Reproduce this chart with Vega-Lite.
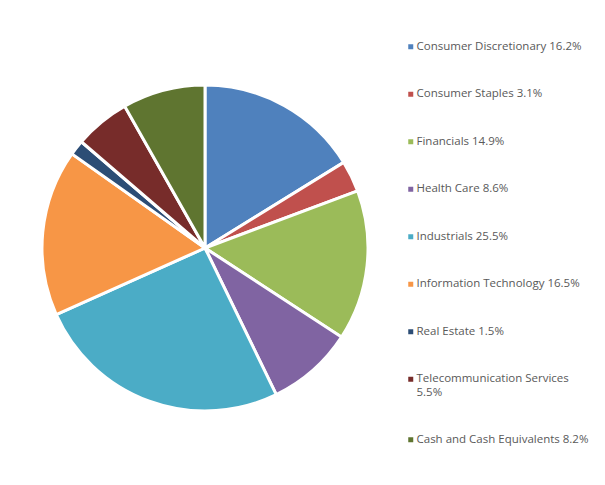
{
  "$schema": "https://vega.github.io/schema/vega-lite/v6.json",
  "width": 384,
  "height": 484,
  "padding": {"left": 13, "top": 6, "right": 0, "bottom": 0},
  "autosize": {"type": "pad"},
  "background": "white",
  "config": {"view": {"stroke": null}},
  "data": {
    "values": [
      {"idx": 1, "label": "Consumer Discretionary 16.2%", "pct": 16.2},
      {"idx": 2, "label": "Consumer Staples 3.1%", "pct": 3.1},
      {"idx": 3, "label": "Financials 14.9%", "pct": 14.9},
      {"idx": 4, "label": "Health Care 8.6%", "pct": 8.6},
      {"idx": 5, "label": "Industrials 25.5%", "pct": 25.5},
      {"idx": 6, "label": "Information Technology 16.5%", "pct": 16.5},
      {"idx": 7, "label": "Real Estate 1.5%", "pct": 1.5},
      {"idx": 8, "label": "Telecommunication Services 5.5%", "pct": 5.5},
      {"idx": 9, "label": "Cash and Cash Equivalents 8.2%", "pct": 8.2}
    ]
  },
  "mark": {"type": "arc", "outerRadius": 163, "stroke": "white", "strokeWidth": 3},
  "encoding": {
    "theta": {"field": "pct", "type": "quantitative", "stack": true},
    "order": {"field": "idx", "type": "quantitative"},
    "color": {
      "field": "label",
      "type": "nominal",
      "sort": null,
      "scale": {
        "domain": ["Consumer Discretionary 16.2%", "Consumer Staples 3.1%", "Financials 14.9%", "Health Care 8.6%", "Industrials 25.5%", "Information Technology 16.5%", "Real Estate 1.5%", "Telecommunication Services 5.5%", "Cash and Cash Equivalents 8.2%"],
        "range": ["#4F81BD", "#C0504D", "#9BBB59", "#8064A2", "#4BACC6", "#F79646", "#2C4D75", "#772C2A", "#5F7530"]
      },
      "legend": {
        "title": null,
        "orient": "none",
        "legendX": 392,
        "legendY": 35,
        "symbolType": "square",
        "symbolSize": 25,
        "symbolStrokeWidth": 0,
        "labelFont": "Open Sans",
        "labelFontSize": 11.5,
        "labelColor": "#595959",
        "labelLimit": 300,
        "labelOffset": 0,
        "rowPadding": 34.5,
        "labelExpr": "datum.label == 'Telecommunication Services 5.5%' ? ['Telecommunication Services', '5.5%'] : datum.label"
      }
    }
  }
}
